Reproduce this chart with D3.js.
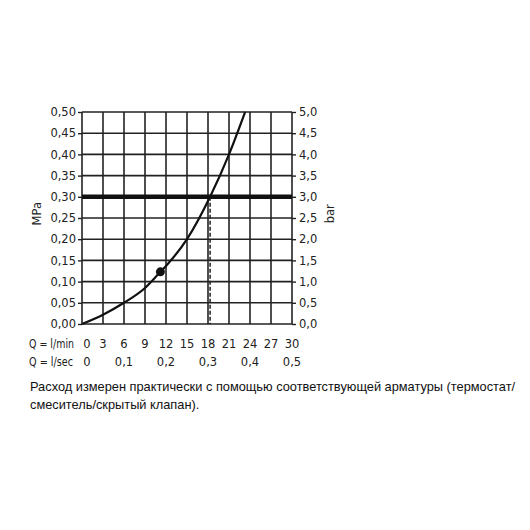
<svg id="svg1"/>

<script src="https://cdnjs.cloudflare.com/ajax/libs/d3/7.8.5/d3.min.js"></script>
<script>
  // flow (l/min) vs pressure (MPa)
  var flow     = [0, 3, 6, 9, 11.2, 12, 15, 18.3, 21, 23.3],
      pressure = [0, 0.022, 0.05, 0.085, 0.123, 0.137, 0.2, 0.30, 0.40, 0.50];
  var marker   = [11.2, 0.123],
      limit    = 0.30;
  var minTicks = [0, 3, 6, 9, 12, 15, 18, 21, 24, 27, 30],
      secTicks = [0, 0.1, 0.2, 0.3, 0.4, 0.5],
      mpaTicks = d3.range(0, 0.501, 0.05),
      barTicks = d3.range(0, 5.01, 0.5);
  var caption  = ["Расход измерен практически с помощью соответствующей арматуры (термостат/",
                  "смеситель/скрытый клапан)."];

  var width = 530, height = 530,
      plotL = 82, plotR = 292, plotT = 112, plotB = 324,
      font = "'DejaVu Sans', sans-serif";

  var svg = d3.select('#svg1')
              .attr('width', width)
              .attr('height', height)
              .style('position', 'absolute').style('left', 0).style('top', 0)
              .style('background', '#fff');

  var x  = d3.scaleLinear().domain([0, 30]).range([plotL, plotR]),
      xs = d3.scaleLinear().domain([0, 0.5]).range([plotL, plotR]),
      y  = d3.scaleLinear().domain([0, 0.5]).range([plotB, plotT]),
      yb = d3.scaleLinear().domain([0, 5]).range([plotB, plotT]);

  var comma = function(f) { return function(d) { return d3.format(f)(d).replace('.', ','); }; };

  // grid
  var g = svg.append('g').attr('stroke', '#222').attr('stroke-width', 1.6);
  g.selectAll('line.v').data(minTicks).enter().append('line')
   .attr('x1', x).attr('x2', x).attr('y1', plotT).attr('y2', plotB);
  g.selectAll('line.h').data(mpaTicks).enter().append('line')
   .attr('x1', plotL).attr('x2', plotR).attr('y1', y).attr('y2', y);

  // left axis
  var ax = svg.append('g').attr('transform', 'translate(' + plotL + ',0)')
     .call(d3.axisLeft(y).tickValues(mpaTicks).tickFormat(comma('.2f')).tickSize(4).tickPadding(2));
  // right axis
  var bx = svg.append('g').attr('transform', 'translate(' + plotR + ',0)')
     .call(d3.axisRight(yb).tickValues(barTicks).tickFormat(comma('.1f')).tickSize(4).tickPadding(3));
  [ax, bx].forEach(function(a) {
    a.select('.domain').remove();
    a.selectAll('line').attr('stroke', '#222').attr('stroke-width', 1.4);
    a.selectAll('text').attr('font-family', font).attr('font-size', 11.5).attr('fill', '#222');
  });

  // bottom labels
  var lab = svg.append('g').attr('font-family', font).attr('font-size', 11.5).attr('fill', '#222');
  lab.append('text').attr('x', 29).attr('y', 348).attr('textLength', 45).attr('lengthAdjust', 'spacingAndGlyphs').text('Q = l/min');
  lab.append('text').attr('x', 29).attr('y', 366).attr('textLength', 44).attr('lengthAdjust', 'spacingAndGlyphs').text('Q = l/sec');
  lab.selectAll('text.m').data(minTicks).enter().append('text')
     .attr('x', function(d) { return x(d) + (d === 0 ? 5 : 0); }).attr('y', 348).attr('text-anchor', 'middle').text(String);
  lab.selectAll('text.s').data(secTicks).enter().append('text')
     .attr('x', function(d) { return xs(d) + (d === 0 ? 5 : 0); }).attr('y', 366)
     .attr('text-anchor', 'middle')
     .text(function(d) { return d === 0 ? '0' : comma('.1f')(d); });

  lab.append('text').attr('transform', 'translate(41,' + y(0.26) + ') rotate(-90)')
     .attr('text-anchor', 'middle').text('MPa');
  lab.append('text').attr('transform', 'translate(334,' + y(0.26) + ') rotate(-90)')
     .attr('text-anchor', 'middle').text('bar');

  // limit line
  svg.append('line').attr('x1', plotL).attr('x2', plotR).attr('y1', y(limit)).attr('y2', y(limit))
     .attr('stroke', '#111').attr('stroke-width', 4.5);
  svg.append('line').attr('x1', x(18.3)).attr('x2', x(18.3)).attr('y1', y(limit)).attr('y2', plotB)
     .attr('stroke', '#222').attr('stroke-width', 1.5).attr('stroke-dasharray', '4,2');

  // curve
  var pts = flow.map(function(d, i) { return [d, pressure[i]]; });
  svg.append('path').datum(pts)
     .attr('d', d3.line().x(function(d) { return x(d[0]); }).y(function(d) { return y(d[1]); })
                 .curve(d3.curveMonotoneX))
     .attr('fill', 'none').attr('stroke', '#111').attr('stroke-width', 2.2);

  svg.append('circle').attr('cx', x(marker[0])).attr('cy', y(marker[1])).attr('r', 4.5).attr('fill', '#111');

  // caption
  svg.append('g').attr('font-family', "'Liberation Sans', Arial, sans-serif").attr('font-size', 12.8).attr('fill', '#111')
     .selectAll('text').data(caption).enter().append('text')
     .attr('x', 30).attr('y', function(d, i) { return 391 + i * 18; }).text(String);
</script>
